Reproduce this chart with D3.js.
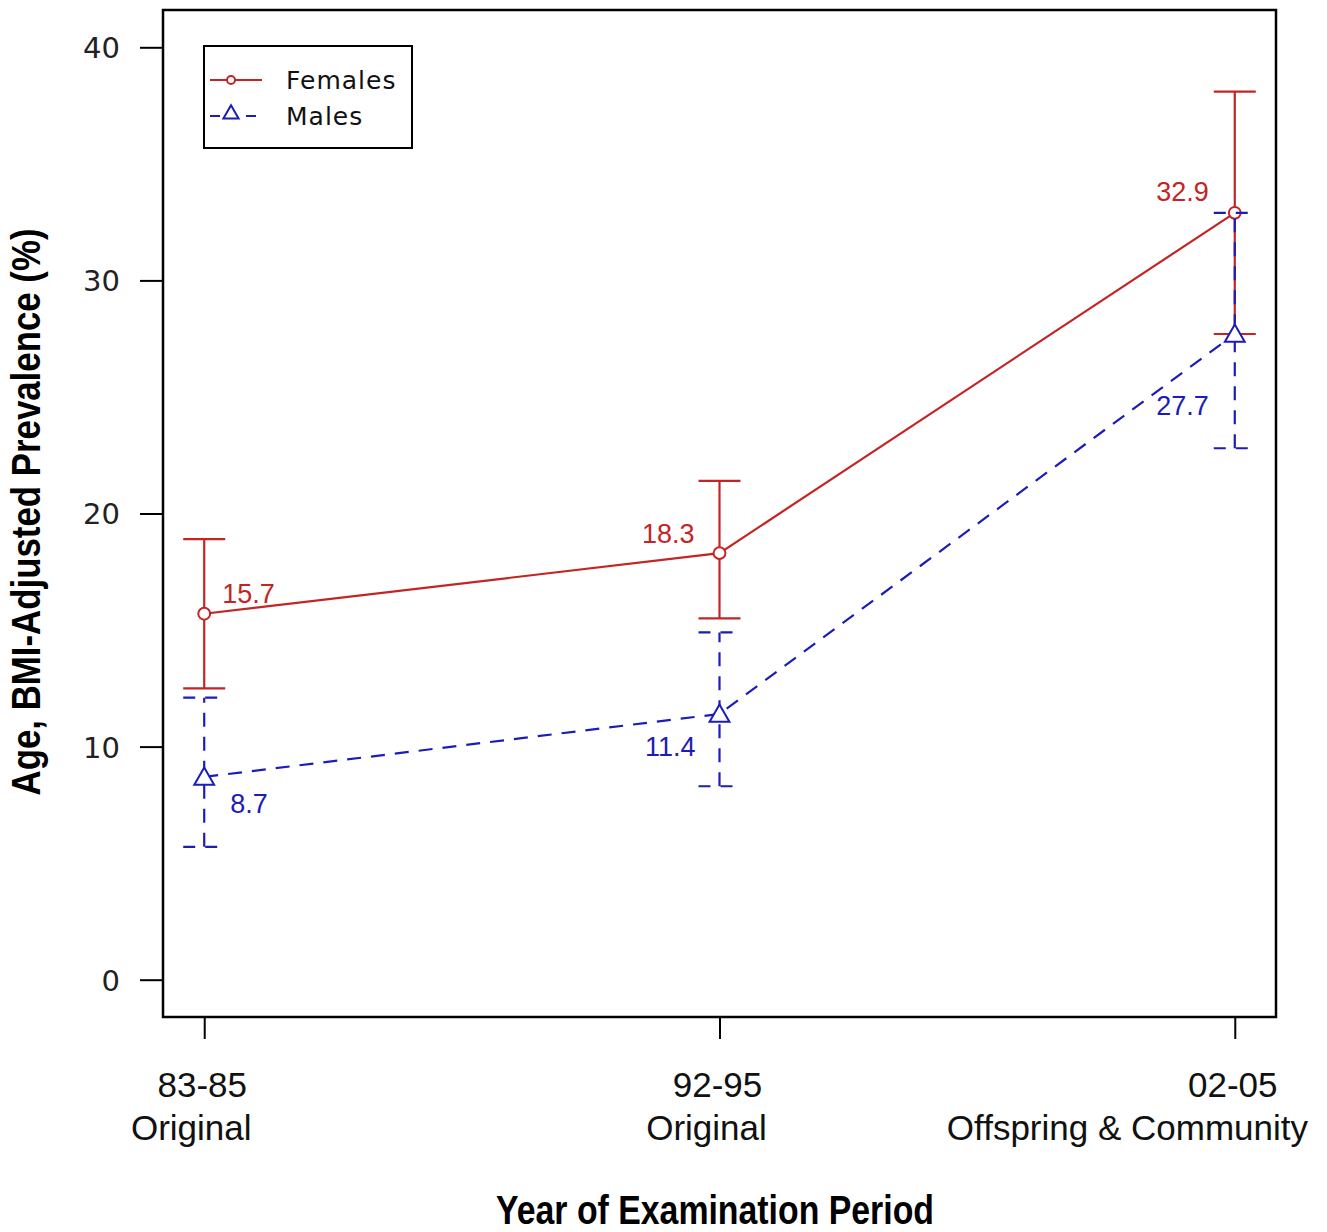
<!DOCTYPE html>
<html>
<head>
<meta charset="utf-8">
<script src="https://cdn.jsdelivr.net/npm/d3@7/dist/d3.min.js"></script>
<style>
	body { margin: 0; background: #fff; }
	svg { display: block; }
</style>
</head>
<body>
<svg id="chart"></svg>
<script>
'use strict'

var periods = ["83-85", "92-95", "02-05"];
var cohorts = ["Original", "Original", "Offspring & Community"];

var femaleValues = [15.7, 18.3, 32.9],
	femaleLower = [12.5, 15.5, 27.7],
	femaleUpper = [18.9, 21.4, 38.1];

var maleValues = [8.7, 11.4, 27.7],
	maleLower = [5.7, 8.3, 22.8],
	maleUpper = [12.1, 14.9, 32.9];

var yTicks = [0, 10, 20, 30, 40];
var seriesNames = ["Females", "Males"];

var WIDTH = 1327,
	HEIGHT = 1232;

var box = { left: 163, right: 1276, top: 10, bottom: 1017 };

var red = "#c42424",
	blue = "#1c1cb8";

var svg = d3.select("#chart")
	.attr("width", WIDTH)
	.attr("height", HEIGHT)

var x = d3.scalePoint()
	.domain(periods)
	.range([box.left, box.right])
	.padding(0.08)

var y = d3.scaleLinear()
	.domain([-1.6, 41.6])
	.range([box.bottom, box.top])

// y axis
var yAxis = svg.append("g")
	.attr("transform", "translate(" + box.left + ",0)")
	.call(d3.axisLeft(y).tickValues(yTicks).tickSize(23).tickPadding(20))

yAxis.select(".domain").remove()
yAxis.selectAll("line").attr("stroke", "#000").attr("stroke-width", 2)
yAxis.selectAll("text")
	.style("font-family", "DejaVu Sans")
	.style("font-size", "29px")
	.attr("fill", "#222")
	.attr("dy", "0.36em")

// x axis
var xAxis = svg.append("g")
	.attr("transform", "translate(0," + box.bottom + ")")
	.call(d3.axisBottom(x).tickSize(22).tickFormat(""))

xAxis.select(".domain").remove()
xAxis.selectAll("line").attr("stroke", "#000").attr("stroke-width", 2)

var xLabels = svg.append("g")
	.style("font-family", "Liberation Sans, Arial, sans-serif")
	.style("font-size", "35px")
	.attr("fill", "#111")

xLabels.selectAll(".period")
	.data(periods)
	.enter().append("text")
	.attr("x", function(d) { return x(d) - 2 })
	.attr("y", 1097)
	.attr("text-anchor", "middle")
	.text(function(d) { return d })

xLabels.selectAll(".cohort")
	.data(cohorts)
	.enter().append("text")
	.attr("x", function(d, i) { return i < 2 ? x(periods[i]) - 13 : box.right + 32 })
	.attr("y", 1140)
	.attr("text-anchor", function(d, i) { return i < 2 ? "middle" : "end" })
	.text(function(d) { return d })

// axis titles
svg.append("text")
	.attr("x", 715)
	.attr("y", 1224)
	.attr("text-anchor", "middle")
	.style("font-family", "Liberation Sans Narrow, Liberation Sans, sans-serif")
	.style("font-weight", "bold")
	.style("font-size", "40px")
	.attr("textLength", 438)
	.attr("lengthAdjust", "spacingAndGlyphs")
	.text("Year of Examination Period")

svg.append("text")
	.attr("transform", "translate(40,512) rotate(-90)")
	.attr("text-anchor", "middle")
	.style("font-family", "Liberation Sans Narrow, Liberation Sans, sans-serif")
	.style("font-weight", "bold")
	.style("font-size", "40px")
	.attr("textLength", 567)
	.attr("lengthAdjust", "spacingAndGlyphs")
	.text("Age, BMI-Adjusted Prevalence (%)")

// plot box
svg.append("rect")
	.attr("x", box.left)
	.attr("y", box.top)
	.attr("width", box.right - box.left)
	.attr("height", box.bottom - box.top)
	.attr("fill", "none")
	.attr("stroke", "#000")
	.attr("stroke-width", 2.5)

var series = [
	{ name: "Females", values: femaleValues, lower: femaleLower, upper: femaleUpper, color: red, dash: null, marker: "circle" },
	{ name: "Males", values: maleValues, lower: maleLower, upper: maleUpper, color: blue, dash: "14,10", marker: "triangle" }
];

var line = d3.line()
	.x(function(d, i) { return x(periods[i]) })
	.y(function(d) { return y(d) })

var capHalf = 21;

series.forEach(function(s) {
	var g = svg.append("g")

	g.append("path")
		.attr("d", line(s.values))
		.attr("fill", "none")
		.attr("stroke", s.color)
		.attr("stroke-width", 2.2)
		.attr("stroke-dasharray", s.dash)

	// error bars
	periods.forEach(function(p, i) {
		var cx = x(p)
		g.append("line")
			.attr("x1", cx).attr("x2", cx)
			.attr("y1", y(s.lower[i])).attr("y2", y(s.upper[i]))
			.attr("stroke", s.color).attr("stroke-width", 2.2)
			.attr("stroke-dasharray", s.dash)
		;[s.lower[i], s.upper[i]].forEach(function(v) {
			g.append("line")
				.attr("x1", cx - capHalf).attr("x2", cx + capHalf)
				.attr("y1", y(v)).attr("y2", y(v))
				.attr("stroke", s.color).attr("stroke-width", 2.2)
				.attr("stroke-dasharray", s.dash ? "12,10" : null)
		})
	})

	// markers
	var sym = d3.symbol()
		.type(s.marker === "circle" ? d3.symbolCircle : d3.symbolTriangle)
		.size(s.marker === "circle" ? 110 : 170)

	g.selectAll(".pt")
		.data(s.values)
		.enter().append("path")
		.attr("d", sym)
		.attr("transform", function(d, i) {
			var dy = s.marker === "circle" ? 0 : 2
			return "translate(" + x(periods[i]) + "," + (y(d) + dy) + ")"
		})
		.attr("fill", "#fff")
		.attr("stroke", s.color)
		.attr("stroke-width", 2)
})

// value labels
var femaleLabelPos = [[18, -11, "start"], [-25, -10, "end"], [-26, -12, "end"]],
	maleLabelPos = [[26, 36, "start"], [-24, 42, "end"], [-26, 81, "end"]];

function addLabels(values, pos, color) {
	svg.append("g")
		.selectAll("text")
		.data(values)
		.enter().append("text")
		.attr("x", function(d, i) { return x(periods[i]) + pos[i][0] })
		.attr("y", function(d, i) { return y(d) + pos[i][1] })
		.attr("text-anchor", function(d, i) { return pos[i][2] })
		.style("font-family", "Liberation Sans, Arial, sans-serif")
		.style("font-size", "27px")
		.attr("fill", color)
		.text(function(d) { return d3.format(".1f")(d) })
}

addLabels(femaleValues, femaleLabelPos, red)
addLabels(maleValues, maleLabelPos, blue)

// legend
var legend = svg.append("g")
	.attr("transform", "translate(204,46)")

legend.append("rect")
	.attr("width", 208)
	.attr("height", 102)
	.attr("fill", "#fff")
	.attr("stroke", "#000")
	.attr("stroke-width", 2)

seriesNames.forEach(function(name, i) {
	var s = series[i]
	var ly = 34 + i * 36
	legend.append("line")
		.attr("x1", 6).attr("x2", 58)
		.attr("y1", ly).attr("y2", ly)
		.attr("stroke", s.color).attr("stroke-width", 2)
		.attr("stroke-dasharray", s.dash ? "10,8" : null)
	legend.append("path")
		.attr("d", d3.symbol()
			.type(s.marker === "circle" ? d3.symbolCircle : d3.symbolTriangle)
			.size(s.marker === "circle" ? 50 : 100))
		.attr("transform", "translate(27," + (ly - (s.marker === "circle" ? 0 : 2)) + ")")
		.attr("fill", "#fff")
		.attr("stroke", s.color)
		.attr("stroke-width", 2)
	legend.append("text")
		.attr("x", 82)
		.attr("y", ly + 9)
		.style("font-family", "DejaVu Sans")
		.style("font-size", "25px")
		.attr("letter-spacing", "1px")
		.attr("fill", "#111")
		.text(name)
})
</script>
</body>
</html>
